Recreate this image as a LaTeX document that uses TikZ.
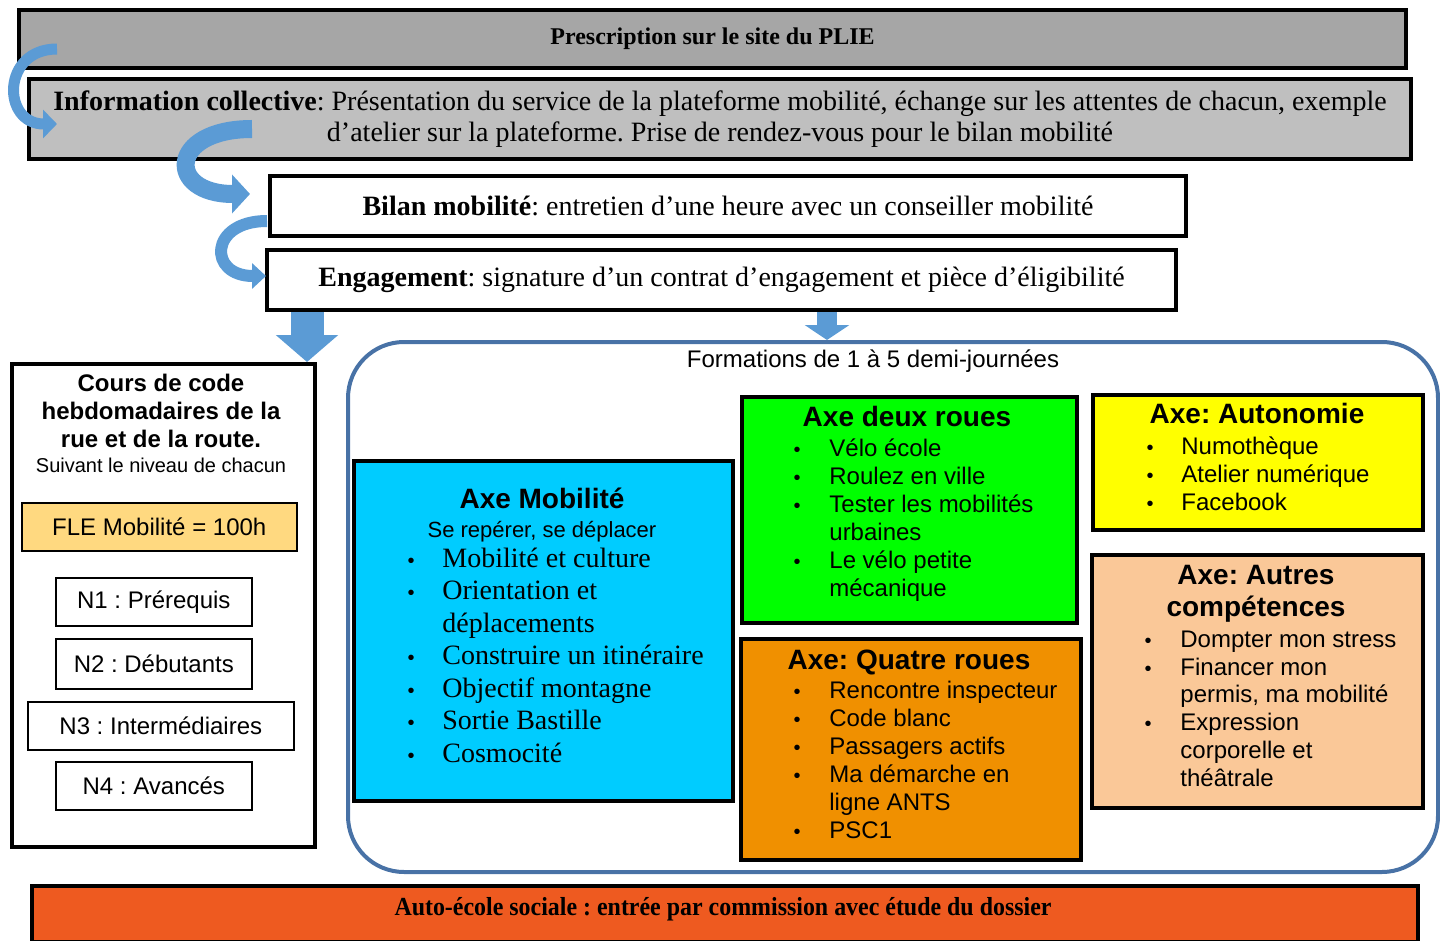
\documentclass[tikz,border=0pt]{standalone}
\usepackage{fontspec}
\setmainfont{Liberation Sans}
\newfontfamily\tnr{Liberation Serif}
\usepackage{graphicx}
\usetikzlibrary{arrows.meta, positioning, calc}
\frenchspacing

\definecolor{presgray}{HTML}{A6A6A6}
\definecolor{infogray}{HTML}{BFBFBF}
\definecolor{flecol}{HTML}{FFD980}
\definecolor{arrowblue}{HTML}{5B9BD5}
\definecolor{formblue}{HTML}{4872A6}
\definecolor{mobcyan}{HTML}{00CCFF}
\definecolor{deuxgreen}{HTML}{00FF00}
\definecolor{quatreorange}{HTML}{F09000}
\definecolor{autoyellow}{HTML}{FFFF00}
\definecolor{autrespeach}{HTML}{FAC898}
\definecolor{ecolered}{HTML}{EE5A20}

\tikzset{
  box/.style={draw, line width=2pt, inner sep=0pt, anchor=north west, align=center},
  lvl/.style={draw, line width=0.8pt, inner sep=0pt, anchor=north west,
    font=\fontsize{12}{14}\selectfont},
  topfont/.style={font=\tnr\fontsize{14}{15.5}\selectfont},
  axetitle/.style={anchor=mid, inner sep=0pt, font=\bfseries\fontsize{14}{16}\selectfont},
  item/.style={anchor=mid west, inner sep=0pt, font=\fontsize{12}{14}\selectfont},
  dot/.style={anchor=mid, inner sep=0pt, font=\fontsize{10}{11}\selectfont},
  curvarrow/.style={arrowblue, line cap=butt},
  blockarrow/.style={arrowblue, line cap=butt}
}

\begin{document}
\begin{tikzpicture}[x=0.5pt, y=-0.5pt]
\useasboundingbox (0,0) rectangle (1440,941);

% top steps
\node[box, fill=presgray, minimum width=693.5pt, minimum height=29pt,
  font=\tnr\bfseries\fontsize{12}{14}\selectfont] (presc) at (17,8)
  {Prescription sur le site du PLIE};
\node[box, fill=infogray, minimum width=691pt, minimum height=40pt, topfont] (info) at (27,77)
  {\textbf{Information collective}: Présentation du service de la plateforme mobilité, échange sur les attentes de chacun, exemple\\
   d’atelier sur la plateforme. Prise de rendez-vous pour le bilan mobilité};
\node[box, fill=white, minimum width=458pt, minimum height=30pt, topfont] (bilan) at (268,174)
  {\textbf{Bilan mobilité}: entretien d’une heure avec un conseiller mobilité};
\node[box, fill=white, minimum width=454.5pt, minimum height=30pt, topfont] (engage) at (265,248)
  {\textbf{Engagement}: signature d’un contrat d’engagement et pièce d’éligibilité};

% curved arrows
\draw[curvarrow, line width=5.5pt, -{Triangle[width=14pt,length=7pt]}]
  ([xshift=20pt,yshift=-5pt]presc.west) to[out=180,in=180,looseness=1.9] ([xshift=15pt,yshift=-2.5pt]info.west);
\draw[curvarrow, line width=9pt, -{Triangle[width=19pt,length=9pt]}]
  ([xshift=112.5pt,yshift=-5pt]info.west) to[out=180,in=180,looseness=3.3] ([xshift=-9pt,yshift=6pt]bilan.west);
\draw[curvarrow, line width=6pt, -{Triangle[width=12.5pt,length=7pt]}]
  ([xshift=-0.5pt,yshift=-7.5pt]bilan.west) to[out=180,in=180,looseness=2.7] ([xshift=0.5pt,yshift=2pt]engage.west);

% code course
\node[box, minimum width=151.5pt, minimum height=241.5pt] (cours) at (10,362) {};
\foreach \t [count=\i from 0] in {Cours de code, hebdomadaires de la, rue et de la route.}
  \node[anchor=mid, inner sep=0pt, font=\bfseries\fontsize{12}{14}\selectfont] (ct\i) at (161,386+28*\i) {\t};
\node[anchor=mid, inner sep=0pt, font=\fontsize{10}{12}\selectfont] (suiv) at (161,467) {Suivant le niveau de chacun};
\node[lvl, fill=flecol, minimum width=137.5pt, minimum height=24pt] (fle) at (21,502) {FLE Mobilité = 100h};
\node[lvl, minimum width=98pt, minimum height=24pt] (n1) at (55,577) {N1 : Prérequis};
\node[lvl, minimum width=98pt, minimum height=25pt] (n2) at (55,638) {N2 : Débutants};
\node[lvl, minimum width=133pt, minimum height=24pt] (n3) at (27,701) {N3 : Intermédiaires};
\node[lvl, minimum width=98pt, minimum height=24pt] (n4) at (55,761) {N4 : Avancés};

% trainings
\node[draw=formblue, line width=2pt, rounded corners=28pt, inner sep=0pt, anchor=north west,
  minimum width=545pt, minimum height=265pt] (forma) at (346,340) {};
\node[anchor=mid, inner sep=0pt, font=\fontsize{12}{14}\selectfont] (formt) at (873,362)
  {Formations de 1 à 5 demi-journées};

\draw[blockarrow, line width=16.5pt, -{Triangle[width=30.5pt,length=13.5pt]}]
  ([xshift=-5pt]cours.north east |- engage.south) -- ([xshift=-5pt]cours.north east);
\draw[blockarrow, line width=10pt, -{Triangle[width=22pt,length=7.5pt]}]
  ([xshift=-33pt]forma.north |- engage.south) -- ([xshift=-33pt]forma.north);

% axe mobilite
\node[box, fill=mobcyan, minimum width=189.5pt, minimum height=170pt] (mobi) at (352,459) {};
\node[axetitle] (mobt) at (542,503) {Axe Mobilité};
\node[anchor=mid, inner sep=0pt, font=\fontsize{11}{13}\selectfont] (mobs) at (542,532) {Se repérer, se déplacer};
\foreach \t [count=\i from 0] in {Mobilité et culture, Orientation et, déplacements, Construire un itinéraire, Objectif montagne, Sortie Bastille, Cosmocité}
  \node[item, font=\tnr\fontsize{14}{16}\selectfont] (mob\i) at (442,562+32.5*\i) {\t};
\foreach \i in {0,1,3,4,5,6}
  \node[dot] (mobd\i) at (411,562+32.5*\i) {\textbullet};

% axe deux roues
\node[box, fill=deuxgreen, minimum width=167.5pt, minimum height=113pt] (deux) at (740,395) {};
\node[axetitle] (deuxt) at (907,421) {Axe deux roues};
\foreach \t [count=\i from 0] in {Vélo école, Roulez en ville, Tester les mobilités, urbaines, Le vélo petite, mécanique}
  \node[item] (deux\i) at (829,451+28*\i) {\t};
\foreach \i in {0,1,2,4}
  \node[dot] (deuxd\i) at (797,451+28*\i) {\textbullet};

% axe quatre roues
\node[box, fill=quatreorange, minimum width=170pt, minimum height=110.5pt] (quatre) at (739,637) {};
\node[axetitle] (quatret) at (909,664) {Axe: Quatre roues};
\foreach \t [count=\i from 0] in {Rencontre inspecteur, Code blanc, Passagers actifs, Ma démarche en, ligne ANTS, PSC1}
  \node[item] (quatre\i) at (829,693+28*\i) {\t};
\foreach \i in {0,1,2,3,5}
  \node[dot] (quatred\i) at (797,693+28*\i) {\textbullet};

% axe autonomie
\node[box, fill=autoyellow, minimum width=165pt, minimum height=67.5pt] (auto) at (1091,393) {};
\node[axetitle] (autot) at (1257,418) {Axe: Autonomie};
\foreach \t [count=\i from 0] in {Numothèque, Atelier numérique, Facebook}
  \node[item] (auto\i) at (1181,449+28*\i) {\t};
\foreach \i in {0,1,2}
  \node[dot] (autod\i) at (1150,449+28*\i) {\textbullet};

% axe autres competences
\node[box, fill=autrespeach, minimum width=165.5pt, minimum height=126.5pt] (autres) at (1090,553) {};
\node[axetitle] (autrest1) at (1256,579) {Axe: Autres};
\node[axetitle] (autrest2) at (1256,611) {compétences};
\foreach \t [count=\i from 0] in {Dompter mon stress, Financer mon, {permis, ma mobilité}, Expression, corporelle et, théâtrale}
  \node[item] (autres\i) at (1180,642+27.8*\i) {\t};
\foreach \i in {0,1,3}
  \node[dot] (autresd\i) at (1148,642+27.8*\i) {\textbullet};

% auto-ecole
\node[box, fill=ecolered, minimum width=693pt, minimum height=28pt] (ecole) at (30,884) {};
\node[anchor=mid, inner sep=0pt, font=\tnr\bfseries\fontsize{13}{15}\selectfont] (ecolet) at (723,910)
  {\scalebox{0.92}[1]{Auto-école sociale : entrée par commission avec étude du dossier}};
\end{tikzpicture}
\end{document}
